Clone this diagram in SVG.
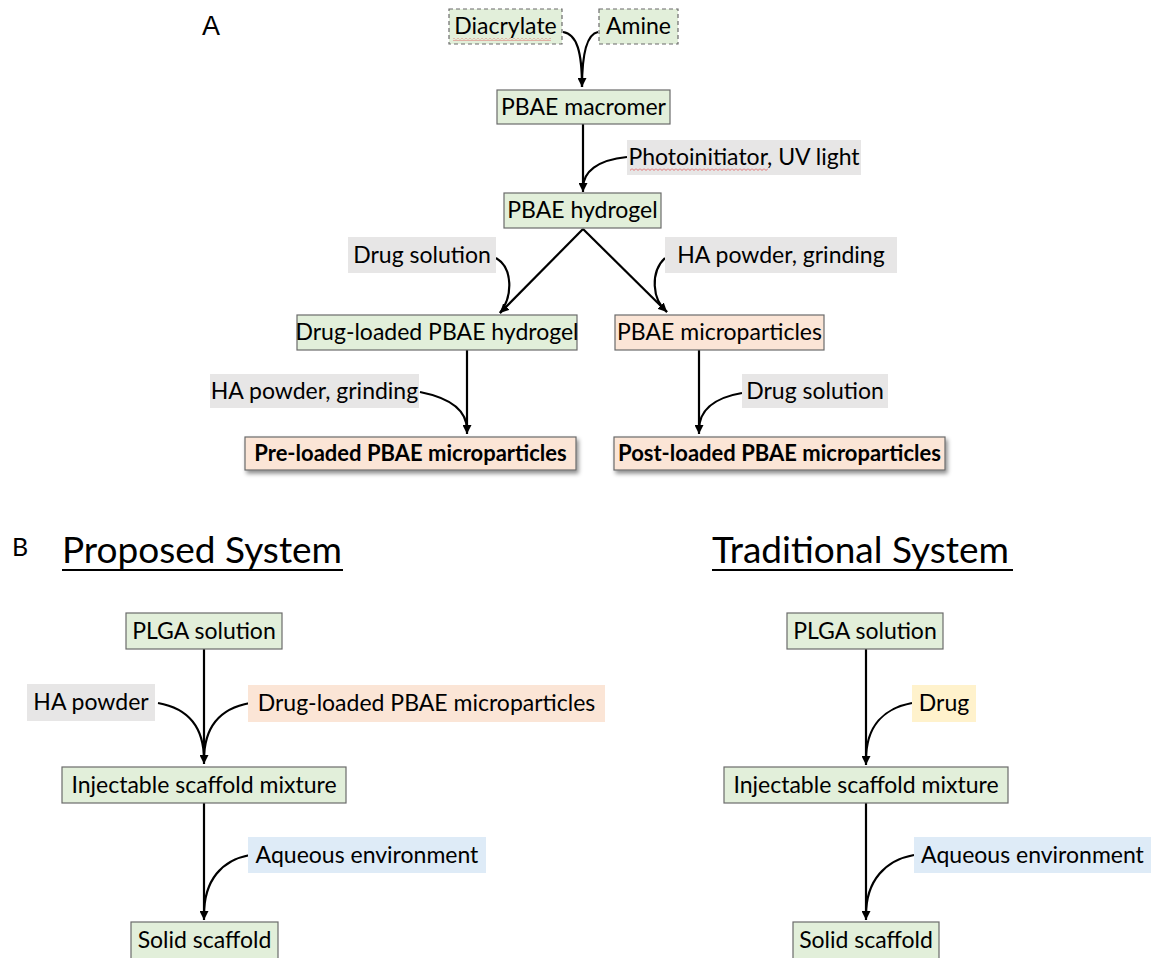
<svg xmlns="http://www.w3.org/2000/svg" width="1157" height="958" viewBox="0 0 1157 958">
<defs>
<style>
text{font-family:Lato,"Noto Sans","Liberation Sans",sans-serif;fill:#000;}
.t{font-size:23px;text-anchor:middle;}
.tb{font-size:22px;text-anchor:middle;font-weight:bold;}
.box{stroke:#6b6b6b;stroke-width:1.2;}
.g{fill:#e2efda;}
.p{fill:#fbe5d6;}
.gray{fill:#e7e6e6;}
.blue{fill:#deebf7;}
.yel{fill:#fff2cc;}
.dash{stroke-dasharray:4 3;}
.c{fill:none;stroke:#000;stroke-width:2.2;}
.h{font-size:37px;}
.lab{font-size:25px;}
</style>
<marker id="ah" viewBox="0 0 10 10" refX="10" refY="5" markerWidth="9" markerHeight="9" markerUnits="userSpaceOnUse" orient="auto">
<path d="M0,0 L10,5 L0,10 z" fill="#000"/>
</marker>
<filter id="sh" x="-10%" y="-30%" width="120%" height="170%">
<feDropShadow dx="2" dy="3" stdDeviation="2" flood-color="#000" flood-opacity="0.45"/>
</filter>
<pattern id="sq" width="4" height="3" patternUnits="userSpaceOnUse">
<path d="M0,0.5 L2,2.5 L4,0.5" fill="none" stroke="#e05050" stroke-width="0.8"/>
</pattern>
</defs>

<text x="202" y="35" style="font-size:27px;font-family:'Liberation Sans',sans-serif">A</text>
<text x="12" y="556" class="lab">B</text>

<g id="connectors">
<path class="c" d="M563,32 C577,34 582,52 582,87"/>
<path class="c" d="M598,32 C587,34 582,52 582,87" marker-end="url(#ah)"/>
<path class="c" d="M583,124 L583,192" marker-end="url(#ah)"/>
<path class="c" d="M627,157 C597,160 583,172 583,188"/>
<path class="c" d="M583,229 L500,313" marker-end="url(#ah)"/>
<path class="c" d="M583,229 L667,312" marker-end="url(#ah)"/>
<path class="c" d="M496,258 C513,268 513,296 500,313"/>
<path class="c" d="M665,258 C650,272 652,300 667,312"/>
<path class="c" d="M467,350 L467,434" marker-end="url(#ah)"/>
<path class="c" d="M420,392 C450,398 467,410 467,430"/>
<path class="c" d="M699,350 L699,434" marker-end="url(#ah)"/>
<path class="c" d="M742,393 C712,398 699,412 699,430"/>

<path class="c" d="M204,649 L204,764" marker-end="url(#ah)"/>
<path class="c" d="M158,703 C186,708 204,725 204,760"/>
<path class="c" d="M250,703 C222,708 204,725 204,760"/>
<path class="c" d="M204,803 L204,920" marker-end="url(#ah)"/>
<path class="c" d="M250,855 C222,860 204,880 204,915"/>

<path class="c" d="M866,649 L866,765" marker-end="url(#ah)"/>
<path class="c" d="M912,703 C885,708 866,725 866,760"/>
<path class="c" d="M866,803 L866,920" marker-end="url(#ah)"/>
<path class="c" d="M914,855 C886,860 866,880 866,915"/>
</g>

<g id="diacrylate">
<rect class="box g dash" x="449" y="9" width="113" height="35"/>
<text class="t" x="505.5" y="34">Diacrylate</text>
<rect x="453" y="38" width="98" height="3" fill="url(#sq)"/>
</g>
<g id="amine">
<rect class="box g dash" x="599" y="9" width="79" height="35"/>
<text class="t" x="638.5" y="34">Amine</text>
</g>
<g id="pbae-macromer">
<rect class="box g" x="497" y="90" width="173" height="34"/>
<text class="t" x="583.5" y="115">PBAE macromer</text>
</g>
<g id="photoinitiator">
<rect class="gray" x="627" y="140" width="234" height="35"/>
<text class="t" x="744" y="165">Photoinitiator, UV light</text>
<rect x="630" y="168" width="138" height="3" fill="url(#sq)"/>
</g>
<g id="pbae-hydrogel">
<rect class="box g" x="504" y="193" width="157" height="35"/>
<text class="t" x="582.5" y="218">PBAE hydrogel</text>
</g>
<g id="drug-solution-1">
<rect class="gray" x="348" y="237" width="148" height="36"/>
<text class="t" x="422" y="263">Drug solution</text>
</g>
<g id="ha-powder-1">
<rect class="gray" x="665" y="237" width="232" height="36"/>
<text class="t" x="781" y="263">HA powder, grinding</text>
</g>
<g id="drug-loaded-hydrogel">
<rect class="box g" x="297" y="315" width="280" height="35"/>
<text class="t" x="437" y="340">Drug-loaded PBAE hydrogel</text>
</g>
<g id="pbae-microparticles">
<rect class="box p" x="615" y="315" width="209" height="35"/>
<text class="t" x="719.5" y="340">PBAE microparticles</text>
</g>
<g id="ha-powder-2">
<rect class="gray" x="210" y="374" width="209" height="34"/>
<text class="t" x="314.5" y="399">HA powder, grinding</text>
</g>
<g id="drug-solution-2">
<rect class="gray" x="742" y="374" width="146" height="34"/>
<text class="t" x="815" y="399">Drug solution</text>
</g>
<g id="pre-loaded">
<rect class="box p" x="245" y="437" width="331" height="33" filter="url(#sh)"/>
<text class="tb" x="410.5" y="461">Pre-loaded PBAE microparticles</text>
</g>
<g id="post-loaded">
<rect class="box p" x="614" y="437" width="331" height="33" filter="url(#sh)"/>
<text class="tb" x="779.5" y="461">Post-loaded PBAE microparticles</text>
</g>

<g id="proposed-title">
<text class="h" x="62" y="563">Proposed System</text>
<rect x="62" y="569" width="281" height="2" fill="#000"/>
</g>
<g id="traditional-title">
<text class="h" x="712" y="563">Traditional System</text>
<rect x="712" y="569" width="301" height="2" fill="#000"/>
</g>

<g id="plga-left">
<rect class="box g" x="126" y="613" width="156" height="36"/>
<text class="t" x="204" y="639">PLGA solution</text>
</g>
<g id="ha-powder-b">
<rect class="gray" x="27" y="684" width="128" height="37"/>
<text class="t" x="91" y="710">HA powder</text>
</g>
<g id="drug-loaded-mp">
<rect class="p" x="248" y="685" width="357" height="37"/>
<text class="t" x="426.5" y="711">Drug-loaded PBAE microparticles</text>
</g>
<g id="injectable-left">
<rect class="box g" x="62" y="767" width="284" height="36"/>
<text class="t" x="204" y="793">Injectable scaffold mixture</text>
</g>
<g id="aqueous-left">
<rect class="blue" x="248" y="837" width="238" height="36"/>
<text class="t" x="367" y="863">Aqueous environment</text>
</g>
<g id="solid-left">
<rect class="box g" x="131" y="922" width="147" height="40"/>
<text class="t" x="204.5" y="948">Solid scaffold</text>
</g>

<g id="plga-right">
<rect class="box g" x="787" y="613" width="156" height="36"/>
<text class="t" x="865" y="639">PLGA solution</text>
</g>
<g id="drug-right">
<rect class="yel" x="912" y="685" width="64" height="37"/>
<text class="t" x="944" y="711">Drug</text>
</g>
<g id="injectable-right">
<rect class="box g" x="724" y="767" width="284" height="36"/>
<text class="t" x="866" y="793">Injectable scaffold mixture</text>
</g>
<g id="aqueous-right">
<rect class="blue" x="914" y="837" width="237" height="36"/>
<text class="t" x="1032.5" y="863">Aqueous environment</text>
</g>
<g id="solid-right">
<rect class="box g" x="793" y="922" width="146" height="40"/>
<text class="t" x="866" y="948">Solid scaffold</text>
</g>
</svg>
